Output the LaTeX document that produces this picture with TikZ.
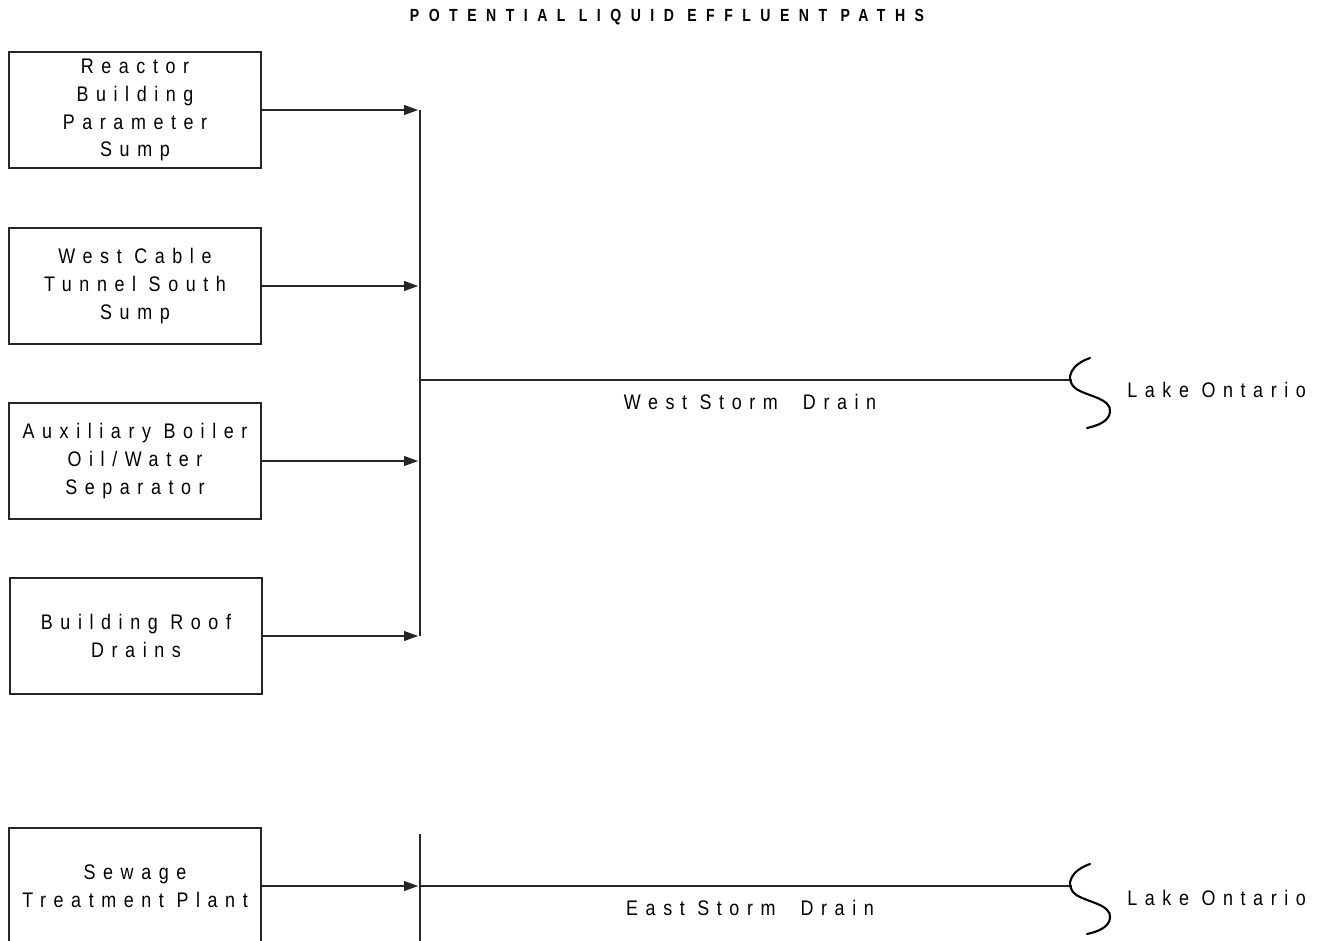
\documentclass[tikz,border=0pt]{standalone}
\usepackage{fontspec}
\usetikzlibrary{arrows.meta}
\newfontfamily\bodyfont[FakeStretch=0.85,LetterSpace=36]{Liberation Sans}
\newfontfamily\titlefont[FakeStretch=0.8,LetterSpace=54]{Liberation Sans Bold}
\tikzset{
  srcbox/.style={draw=black!85, line width=0.9pt, minimum width=5.04cm, minimum height=2.32cm, inner sep=0pt, align=center,
    font=\bodyfont\fontsize{12}{15.9}\selectfont},
  lbl/.style={font=\bodyfont\fontsize{12}{15.9}\selectfont, inner sep=0pt},
  pipe/.style={draw=black!85, line width=0.9pt},
  arr/.style={pipe, -{Triangle[length=8pt,width=5.5pt]}, shorten >=1pt},
  wave/.style={draw=black, line width=1.2pt, line cap=round}
}
\begin{document}
\begin{tikzpicture}[x=0.02cm,y=-0.02cm]
\useasboundingbox (0,0) rectangle (1327,940);
\clip (0,0) rectangle (1327,940);
% title
\node[font=\titlefont\fontsize{10}{12}\selectfont, inner sep=0pt] (title) at (667,17) {POTENTIAL LIQUID EFFLUENT PATHS};
% source boxes
\node[srcbox] (b1) at (135,110) {Reactor\\Building\\Parameter\\Sump};
\node[srcbox] (b2) at (135,286) {West Cable\\Tunnel South\\Sump};
\node[srcbox] (b3) at (135,461) {Auxiliary Boiler\\Oil/Water\\Separator};
\node[srcbox] (b4) at (136,636) {Building Roof\\Drains};
\node[srcbox] (b5) at (135,886) {Sewage\\Treatment Plant};
% trunk coordinates
\coordinate (t1) at (420,111);
\coordinate (wj) at (420,380);
\coordinate (we) at (1072,380);
\coordinate (et) at (420,834);
\coordinate (eb) at (420,942);
\coordinate (ej) at (420,886);
\coordinate (ee) at (1072,886);
% arrows into west trunk
\draw[arr] (b1.east) -- (b1.east -| t1);
\draw[arr] (b2.east) -- (b2.east -| t1);
\draw[arr] (b3.east) -- (b3.east -| t1);
\draw[arr] (b4.east) -- (b4.east -| t1);
\draw[pipe] (b1.east -| t1) -- (b4.east -| t1);
% west storm drain
\draw[pipe] (wj) -- (we);
\node[lbl] (wsd) at (750,402) {West Storm\ \ Drain};
\draw[wave] (1090,358) .. controls (1072,364) and (1064,378) .. (1075,388)
  .. controls (1085,396) and (1112,398) .. (1110,412)
  .. controls (1109,422) and (1096,426) .. (1087,428);
\node[lbl, anchor=west] (lo1) at (1127,390) {Lake\ Ontario};
% east storm drain
\draw[pipe] (et) -- (eb);
\draw[arr] (b5.east) -- (ej);
\draw[pipe] (ej) -- (ee);
\node[lbl] (esd) at (750,908) {East Storm\ \ Drain};
\draw[wave] (1090,864) .. controls (1072,870) and (1064,884) .. (1075,894)
  .. controls (1085,902) and (1112,904) .. (1110,918)
  .. controls (1109,928) and (1096,932) .. (1087,934);
\node[lbl, anchor=west] (lo2) at (1127,898) {Lake\ Ontario};
\end{tikzpicture}
\end{document}
